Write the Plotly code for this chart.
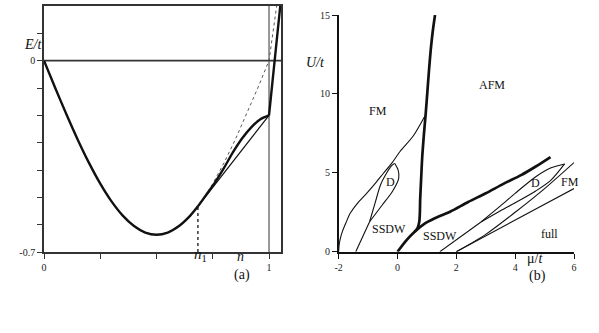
import plotly.graph_objects as go
from plotly.subplots import make_subplots

# ---- panel (a): energy vs filling ----
n_band = [0.0, 0.05, 0.1, 0.15, 0.2, 0.25, 0.3, 0.35, 0.4, 0.45, 0.5, 0.55, 0.6, 0.65, 0.684]
e_band = [0.0, -0.100, -0.197, -0.289, -0.374, -0.450, -0.515, -0.567, -0.605, -0.629, -0.637, -0.629, -0.605, -0.567, -0.533]

n_upper = [0.684, 0.72, 0.76, 0.8, 0.84, 0.88, 0.92, 0.96, 1.0]
e_upper = [-0.533, -0.492, -0.445, -0.392, -0.335, -0.285, -0.245, -0.215, -0.2]

n_steep = [1.0, 1.05]
e_steep = [-0.2, 0.2]

n_dot = [0.684, 0.7, 0.75, 0.8, 0.85, 0.9, 0.95, 1.0, 1.034]
e_dot = [-0.533, -0.515, -0.450, -0.374, -0.289, -0.197, -0.100, 0.0, 0.2]

n_tangent = [0.684, 1.0]
e_tangent = [-0.533, -0.2]

n1 = 0.684
e_n1 = -0.533

# ---- panel (b): phase diagram ----
mu_afm = [0.58, 0.68, 0.74, 0.76, 0.77, 0.8, 0.84, 0.9, 0.96, 1.01, 1.07, 1.13, 1.2, 1.275]
u_afm = [1.25, 1.5, 1.9, 2.5, 3.3, 4.5, 6.0, 7.5, 8.8, 10.0, 11.5, 12.8, 14.0, 15.0]

mu_ssdw = [0.0, 0.3, 0.6, 0.9, 1.25, 1.8, 2.4, 3.0, 3.6, 4.2, 4.7, 5.2]
u_ssdw = [0.0, 0.72, 1.3, 1.75, 2.1, 2.55, 3.15, 3.7, 4.3, 4.85, 5.4, 6.0]

mu_fm = [-2.0, -1.99, -1.95, -1.87, -1.75, -1.61, -1.35, -1.05, -0.75, -0.48, -0.2, 0.085, 0.54, 0.93]
u_fm = [0.0, 0.35, 0.8, 1.3, 1.85, 2.43, 3.1, 3.7, 4.35, 4.97, 5.6, 6.35, 7.35, 8.6]

mu_d1_stem = [-1.42, -0.95]
u_d1_stem = [0.0, 1.9]
mu_d1_left = [-0.95, -0.75, -0.58, -0.41, -0.2, -0.1]
u_d1_left = [1.9, 3.17, 4.23, 4.86, 5.45, 5.6]
mu_d1_right = [-0.95, -0.52, -0.18, 0.04, 0.02, -0.1]
u_d1_right = [1.9, 2.96, 3.8, 4.65, 5.18, 5.6]

mu_d2_stem = [1.44, 2.85]
u_d2_stem = [0.0, 1.9]
mu_d2_upper = [2.85, 3.5, 4.0, 4.7, 5.2, 5.68]
u_d2_upper = [1.9, 2.9, 3.7, 4.75, 5.3, 5.56]
mu_d2_lower = [2.85, 3.5, 4.0, 4.7, 5.2, 5.68]
u_d2_lower = [1.9, 2.6, 3.1, 3.85, 4.5, 5.56]

mu_fm2_upper = [2.0, 3.0, 4.0, 5.0, 6.0]
u_fm2_upper = [0.0, 1.1, 2.5, 4.0, 5.65]
mu_full = [2.0, 6.0]
u_full = [0.0, 4.0]

SERIF = "Liberation Serif, Times New Roman, serif"
BLACK = "#111111"
GREY = "#333333"
W, H = 599, 333

fig = make_subplots(rows=1, cols=2)

def line(x, y, width, col, dash="solid", color=BLACK, smooth=False):
    fig.add_trace(go.Scatter(x=x, y=y, mode="lines", showlegend=False,
                             line=dict(color=color, width=width, dash=dash,
                                       shape="spline" if smooth else "linear",
                                       smoothing=0.8)),
                  row=1, col=col)

# (a)
line([0, 1.055], [0, 0], 1.6, 1, color=GREY)
line([1.0, 1.0], [-0.7, 0.2], 1.0, 1, color=GREY)
line(n_dot, e_dot, 1.0, 1, dash="dot", color="#555555")
line(n_tangent, e_tangent, 1.2, 1)
line([n1, n1], [-0.7, e_n1], 1.3, 1, dash="dot")
line(n_band, e_band, 2.4, 1, smooth=True)
line(n_upper, e_upper, 2.4, 1, smooth=True)
line(n_steep, e_steep, 2.4, 1)

# (b)
line(mu_fm, u_fm, 1.1, 2, smooth=True)
line(mu_d1_stem, u_d1_stem, 1.1, 2)
line(mu_d1_left, u_d1_left, 1.1, 2, smooth=True)
line(mu_d1_right, u_d1_right, 1.1, 2, smooth=True)
line(mu_d2_stem, u_d2_stem, 1.1, 2)
line(mu_d2_upper, u_d2_upper, 1.1, 2, smooth=True)
line(mu_d2_lower, u_d2_lower, 1.1, 2, smooth=True)
line(mu_fm2_upper, u_fm2_upper, 1.1, 2, smooth=True)
line(mu_full, u_full, 1.1, 2)
line(mu_afm, u_afm, 2.7, 2, smooth=True)
line(mu_ssdw, u_ssdw, 2.7, 2, smooth=True)

tick_font = dict(family=SERIF, size=10, color="#222222")

fig.update_xaxes(domain=[44 / W, 281.4 / W], range=[0, 1.055], automargin=False,
                 tickvals=[0, 1], ticktext=["0", "1"],
                 ticks="outside", ticklen=5, tickcolor=GREY, tickfont=tick_font,
                 minor=dict(tickvals=[0.25, 0.5, 0.75], ticks="outside", ticklen=5,
                            tickcolor=GREY, showgrid=False),
                 showline=True, linecolor=GREY, linewidth=1.6, mirror=True,
                 showgrid=False, zeroline=False, row=1, col=1)
fig.update_yaxes(domain=[1 - 252 / H, 1 - 6 / H], range=[-0.7, 0.2], automargin=False,
                 tickvals=[-0.7, 0], ticktext=["-0.7", "0"],
                 ticks="outside", ticklen=5, tickcolor=GREY, tickfont=tick_font,
                 minor=dict(tickvals=[-0.6, -0.5, -0.4, -0.3, -0.2, -0.1, 0.1],
                            ticks="outside", ticklen=5, tickcolor=GREY, showgrid=False),
                 showline=True, linecolor=GREY, linewidth=1.6, mirror=True,
                 showgrid=False, zeroline=False, row=1, col=1)

fig.update_xaxes(domain=[338.7 / W, 574 / W], range=[-2, 6], automargin=False,
                 tickvals=[-2, 0, 2, 4, 6], ticktext=["-2", "0", "2", "4", "6"],
                 ticks="outside", ticklen=5, tickcolor=BLACK, tickfont=tick_font,
                 showline=True, linecolor=BLACK, linewidth=1.6,
                 showgrid=False, zeroline=False, row=1, col=2)
fig.update_yaxes(domain=[1 - 251.7 / H, 1 - 15 / H], range=[0, 15], automargin=False,
                 tickvals=[0, 5, 10, 15], ticks="outside", ticklen=5,
                 tickcolor=BLACK, tickfont=tick_font,
                 showline=True, linecolor=BLACK, linewidth=1.6,
                 showgrid=False, zeroline=False, row=1, col=2)

def label(text, x, y, ref, size=12):
    fig.add_annotation(text=text, x=x, y=y, xref="x" + ref, yref="y" + ref,
                       showarrow=False, font=dict(family=SERIF, size=size, color=BLACK))

def plabel(text, px, py, size=14):
    # placed by pixel position on the page
    fig.add_annotation(text=text, x=px / W, y=1 - py / H, xref="paper", yref="paper",
                       showarrow=False, font=dict(family=SERIF, size=size, color=BLACK))

# (a) labels
plabel("<i>E/t</i>", 22, 35)
plabel("<i>n</i><sub>1</sub>", 200, 266, 15)
plabel("<i>n</i>", 240, 266)
plabel("(a)", 242, 285)

# (b) labels
plabel("<i>U/t</i>", 315, 53)
plabel("μ/<i>t</i>", 545, 268)
plabel("(b)", 548, 286)
label("AFM", 3.22, 10.56, "2", 12)
label("FM", -0.68, 8.92, "2", 12)
label("D", -0.25, 4.44, "2", 12)
label("SSDW", -0.28, 1.42, "2", 12)
label("SSDW", 1.45, 1.0, "2", 12)
label("D", 4.69, 4.37, "2", 12)
label("FM", 5.85, 4.44, "2", 12)
label("full", 5.17, 1.1, "2", 12)

fig.update_layout(width=W, height=H, margin=dict(l=0, r=0, t=0, b=0),
                  plot_bgcolor="white", paper_bgcolor="white", showlegend=False)

# drop the page's default body margin so the figure sits at the window corner
fig.write_html("out.html", config={"displayModeBar": False},
               post_script="document.body.style.margin='0';")
